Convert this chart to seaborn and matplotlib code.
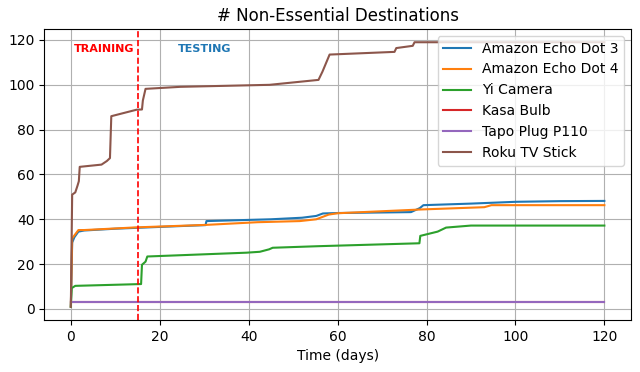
import pandas as pd
import seaborn as sns
import matplotlib.pyplot as plt

# cumulative count of non-essential destinations per device
echo3_days = [0, 0.3, 0.8, 1.7, 3, 10, 15, 25, 30.3, 30.5, 45, 52, 55.2, 56.7, 60, 76.5, 78.5, 79.3, 90, 100, 110, 120]
echo3_vals = [1, 29.6, 32, 34.5, 35, 35.8, 36.2, 37, 37.4, 39.2, 40, 40.7, 41.5, 42.6, 42.8, 43.2, 45, 46.3, 47, 47.8, 48.1, 48.2]

echo4_days = [0, 0.3, 1.7, 3, 14.8, 30.4, 42, 51.5, 55.2, 58, 60, 79, 93, 94.6, 120]
echo4_vals = [1, 31.5, 35.2, 35.2, 36.4, 37.5, 38.7, 39.2, 40, 42.1, 42.7, 44.4, 45.4, 46.3, 46.3]

yi_days = [0, 0.2, 1, 15.8, 16, 16.8, 17.2, 39.5, 42.5, 44.6, 45.4, 55.7, 78.4, 78.6, 82.5, 84.4, 90, 120]
yi_vals = [1, 9.3, 10.3, 11.1, 19.7, 21.1, 23.4, 25.1, 25.5, 26.6, 27.3, 28, 29.3, 32.6, 34.5, 36.3, 37.2, 37.2]

kasa_days = [0, 120]
kasa_vals = [3, 3]

tapo_days = [0, 120]
tapo_vals = [3, 3]

roku_days = [0, 0.3, 1, 1.5, 1.8, 2, 6.9, 8.1, 8.8, 9.1, 14.8, 16, 16.2, 16.8, 24.6, 44.7, 55.7, 56.6, 58.2, 72.8, 73.2, 76.9, 77.3, 120]
roku_vals = [1, 51, 52, 55, 57, 63.4, 64.4, 66, 67.3, 86, 88.9, 89, 93, 98.2, 99.1, 100, 102.2, 105.9, 113.5, 114.7, 116.4, 117.4, 119, 119]

devices = ["Amazon Echo Dot 3", "Amazon Echo Dot 4", "Yi Camera", "Kasa Bulb", "Tapo Plug P110", "Roku TV Stick"]
series = [(echo3_days, echo3_vals), (echo4_days, echo4_vals), (yi_days, yi_vals),
          (kasa_days, kasa_vals), (tapo_days, tapo_vals), (roku_days, roku_vals)]

train_end = 15

fig, ax = plt.subplots(figsize=(6.4, 3.72), dpi=100)
palette = sns.color_palette("tab10")
for i, (name, (d, v)) in enumerate(zip(devices, series)):
    sns.lineplot(x=d, y=v, label=name, color=palette[i], ax=ax,
                 estimator=None, sort=False, linewidth=1.5)

ax.axvline(train_end, color="red", linestyle="--", linewidth=1.2)
ax.text(7.5, 116, "TRAINING", color="red", fontsize=8, fontweight="bold", ha="center", va="center")
ax.text(30, 116, "TESTING", color="tab:blue", fontsize=8, fontweight="bold", ha="center", va="center")

ax.grid(True)
ax.set_title("# Non-Essential Destinations")
ax.set_xlabel("Time (days)")
ax.legend(loc="upper right")
fig.subplots_adjust(left=0.069, right=0.986, top=0.922, bottom=0.14)
plt.savefig("out.png")
plt.close()
